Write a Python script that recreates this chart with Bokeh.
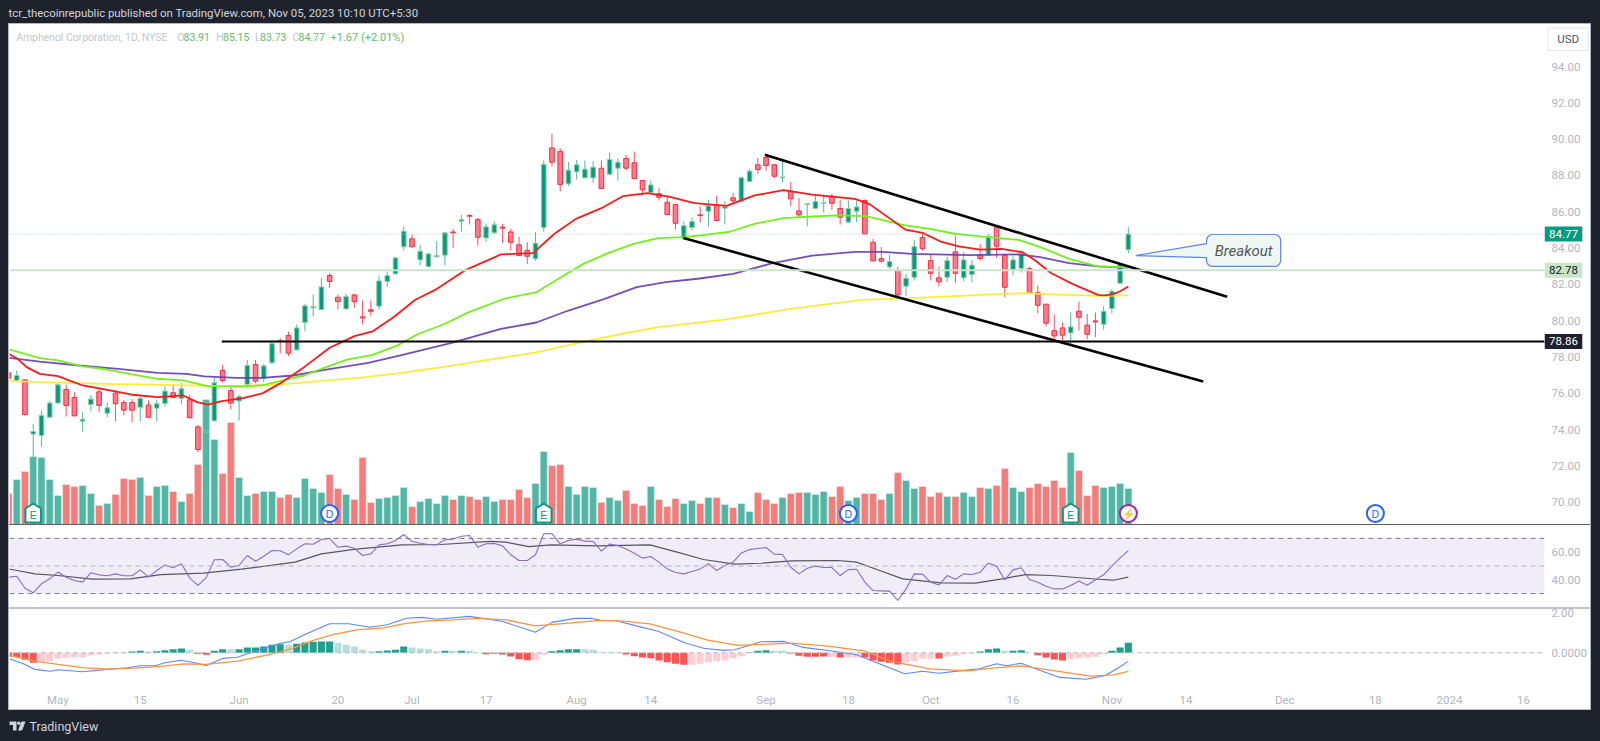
import numpy as np
from bokeh.core.properties import value
from bokeh.embed import file_html
from bokeh.resources import INLINE
from bokeh.plotting import figure
from bokeh.layouts import column, row
from bokeh.models import (Range1d, FixedTicker, Label, Span, BoxAnnotation, LinearAxis, Spacer)

# ---------- data (bar 0 = 1 May 2023, last bar = 3 Nov 2023) ----------
first_bar = -6
opens = [77.13,76.70,76.74,73.75,73.67,74.68,75.46,76.21,75.77,74.46,75.38,76.08,74.90,76.01,75.49,75.49,75.23,75.35,75.18,75.44,76.03,75.71,75.64,74.15,73.86,74.48,77.26,76.15,75.57,76.48,77.59,76.81,77.68,78.89,79.18,
         78.39,79.90,80.71,80.61,82.49,81.29,80.65,81.42,80.21,80.60,80.80,82.16,82.58,84.07,84.51,83.35,82.98,83.52,83.61,84.89,85.48,85.79,85.57,84.56,84.84,85.15,84.89,84.18,83.88,83.41,85.13,89.52,89.32,87.54,88.20,
         87.87,87.87,88.40,88.07,88.40,88.94,88.70,87.72,87.06,86.99,86.53,86.40,84.53,85.13,85.83,86.03,86.36,86.20,86.77,86.57,87.67,88.59,88.99,88.59,87.87,87.14,86.05,86.40,86.18,86.47,86.86,86.18,85.43,86.03,
         86.62,84.32,83.42,82.96,82.78,81.90,82.39,84.58,83.31,82.36,82.39,83.79,82.36,82.54,83.61,83.62,85.19,83.61,82.80,82.89,82.87,81.55,80.91,79.45,79.60,79.33,80.52,79.75,79.99,79.80,80.67,82.06,83.91]
highs = [77.16,77.26,76.78,74.32,75.05,75.57,76.61,76.47,76.06,74.96,75.91,76.30,75.49,76.15,75.64,75.68,75.82,75.60,75.64,76.37,76.43,76.56,75.93,74.26,73.99,76.89,77.57,76.43,75.93,77.84,77.84,77.62,78.91,79.04,79.40,
         79.79,80.93,81.44,82.36,82.63,81.44,81.48,81.48,81.11,81.11,82.49,82.71,83.53,85.19,84.75,84.18,83.74,84.38,84.89,85.06,85.83,85.87,85.67,85.34,85.48,85.34,85.06,84.64,84.32,84.88,88.83,90.30,89.49,88.75,88.86,
         88.83,88.79,88.83,89.27,88.97,89.14,89.32,87.76,87.72,87.30,86.84,86.44,85.48,85.70,86.29,86.66,86.88,86.58,87.03,87.94,88.37,88.97,89.12,88.64,88.83,87.63,86.77,86.46,86.88,86.95,86.99,86.66,86.62,86.62,
         86.69,84.51,84.05,83.64,82.98,82.58,84.45,84.87,83.64,82.98,83.53,84.69,83.79,83.35,84.23,84.78,85.24,83.68,83.59,83.90,82.98,81.93,80.92,80.34,79.90,80.45,81.03,80.37,80.45,80.81,81.73,83.17,85.15]
lows = [76.80,76.70,74.78,72.30,73.07,74.68,75.46,74.72,74.72,73.89,75.01,74.96,74.68,74.46,74.79,74.39,74.46,74.68,74.45,75.27,75.73,75.38,74.65,72.75,73.77,74.46,76.61,75.12,74.50,76.30,76.56,76.61,77.59,78.21,78.06,
        78.39,79.42,80.23,80.61,81.81,80.63,80.61,80.71,79.79,80.28,80.60,81.85,82.54,83.87,84.05,83.06,82.98,83.50,83.06,84.01,84.91,85.30,84.14,84.36,84.79,84.27,83.87,83.59,83.13,83.31,84.91,88.50,87.12,87.43,87.78,
        87.87,87.58,87.25,88.05,87.72,88.27,87.80,86.92,87.03,86.62,85.81,85.02,84.45,84.97,85.41,85.17,85.48,85.30,86.44,86.51,87.65,88.09,88.27,87.85,87.61,86.31,85.68,85.19,86.18,85.96,86.11,85.30,85.37,85.43,
        84.75,83.28,83.20,82.87,81.20,81.37,82.21,83.86,82.21,81.88,82.14,82.08,82.17,82.12,83.31,83.61,83.46,81.29,82.50,82.65,81.48,80.41,79.68,79.00,78.79,78.68,79.45,78.98,79.09,79.51,80.41,82.05,83.73]
closes = [76.83,76.98,74.83,73.89,74.78,75.46,76.47,75.33,74.76,74.57,75.68,75.33,75.20,75.42,75.07,75.07,75.71,74.68,75.42,76.12,75.77,76.25,74.65,72.90,73.93,76.58,76.70,75.46,75.82,77.53,76.67,77.51,78.73,78.85,78.21,
          79.60,80.82,80.78,81.86,82.16,81.05,81.33,81.05,80.15,80.52,82.19,82.49,83.46,84.93,84.07,83.83,83.68,83.59,84.84,84.84,85.57,85.76,84.60,85.17,85.28,85.10,84.32,83.59,83.55,84.27,88.61,88.73,87.50,88.29,88.59,
          88.35,88.46,87.28,88.88,88.73,88.40,87.83,87.21,87.48,86.80,85.85,85.37,85.23,85.46,85.79,86.33,85.52,86.29,86.60,87.87,88.24,88.33,88.55,87.96,87.92,86.71,85.83,86.46,86.57,86.51,86.47,85.70,86.18,86.27,
          84.78,83.29,83.28,83.26,81.42,82.34,84.08,83.97,82.61,82.14,83.31,82.61,83.35,83.06,83.42,84.64,84.10,81.84,83.35,83.68,81.51,80.85,79.86,79.16,79.20,79.66,80.19,79.25,79.93,80.52,81.62,83.09,84.77]
volumes = [31,45,53,68,67,45,29,40,38,39,31,19,21,30,46,45,47,29,38,39,33,23,31,60,125,85,51,102,47,29,31,33,33,27,30,27,46,36,32,50,36,30,25,67,22,26,27,29,37,18,23,26,21,29,25,29,28,25,28,23,25,25,35,27,41,73,59,60,38,30,38,37,22,
           27,24,34,21,19,38,25,18,26,21,24,21,27,27,20,17,21,13,32,25,21,27,31,32,32,30,33,28,38,24,27,31,31,25,31,52,44,36,38,28,32,28,28,32,28,37,36,39,56,37,33,37,41,38,44,37,72,54,29,39,37,38,41,36]

ema20_x = [-6,-4.9,-3.8,-2.2,0,3,6,9,12.1,15.2,16.9,18.2,19.9,22.5,24.9,27.3,29.9,33,36,38.2,40.8,43.4,46,49.4,53.8,57.7,60.3,62.9,66,68.6,71.6,74.2,77.3,81.2,84.6,88.1,91.6,96.8,98.5,101.1,102.9,105,107.2,109.4,112,114.6,117.2,118.7,120.6,123.2,126.3,127,128,129,130]
ema20_y = [78.18,77.90,77.44,77.07,76.95,76.43,76.19,75.92,75.79,75.88,75.51,75.38,75.57,75.73,76.01,76.63,77.44,78.51,79.15,79.41,80.20,81.15,81.74,82.77,83.65,83.72,84.79,85.61,86.20,86.86,87.03,86.84,86.48,86.33,86.90,87.19,86.95,86.71,86.44,85.61,85.02,84.84,84.36,84.09,83.92,83.96,83.76,83.32,82.63,82.03,81.42,81.40,81.44,81.62,81.88]
ema50_x = [-6,-2.2,0,3,6,9,12.1,15.2,18.2,22.5,24.9,27.3,29.9,32,35.1,38.2,41.2,43.8,46.8,49.9,54.2,58.1,60.8,63.8,66.8,69.9,72.9,76,79,81.6,84.6,88.1,91.6,94.6,98.1,100.7,102.9,105.9,108.9,112,116.7,119.3,122.8,126.3,127,129,130]
ema50_y = [78.43,77.94,77.81,77.48,77.31,77.04,76.80,76.71,76.39,76.38,76.45,76.71,76.98,77.35,77.85,78.12,78.63,79.28,79.79,80.47,81.21,81.57,82.31,83.13,83.72,84.23,84.55,84.60,84.75,84.90,85.34,85.65,85.74,85.80,85.76,85.48,85.25,85.06,84.79,84.64,84.45,84.05,83.41,82.99,82.98,82.95,82.93]
ema100_x = [-6,-2.2,2.6,7.3,12.1,15.6,17.8,21.7,24.7,28.6,32,37.7,42.1,47.7,53.8,58.1,62,66.4,70.3,73.8,77.7,82,86.8,91.6,96.8,100.2,103.7,110.7,116.7,119.3,122.8,126.3,129,130]
ema100_y = [77.95,77.75,77.53,77.35,77.13,77.07,76.93,76.85,76.85,76.98,77.26,77.68,78.14,78.76,79.55,79.90,80.56,81.20,81.85,82.12,82.31,82.58,83.17,83.59,83.79,83.79,83.68,83.61,83.65,83.50,83.17,82.99,82.93,82.93]
ema200_x = [-6,-2.2,6,14.7,19.9,24.3,29,36.4,40.8,47.3,53.8,58.1,64.2,68.6,72.9,81.2,89,97.6,102,106.3,114.1,117.6,121.5,126.6,130]
ema200_y = [76.69,76.61,76.52,76.45,76.39,76.43,76.56,76.85,77.07,77.48,77.95,78.25,78.87,79.28,79.64,80.07,80.65,81.15,81.22,81.30,81.46,81.52,81.44,81.37,81.40]

rsi = [41.9,42.6,33.9,30.6,37.1,40.7,45.6,41.9,39.5,38.3,45.1,43.6,42.9,44.3,42.9,42.9,47.2,41.9,46.7,50.8,48.7,51.6,41.4,35.9,41.4,54.5,54.7,49.2,50.4,57.6,53.5,57.1,61.2,61.0,58.1,62.4,66.1,65.8,69.2,69.9,63.6,64.4,62.9,57.6,58.8,65.3,66.1,68.5,72.8,67.8,66.5,65.6,65.3,69.0,69.5,71.6,72.1,63.6,66.1,66.3,64.6,58.1,54.0,54.0,58.1,73.3,73.5,66.1,68.5,69.5,68.0,67.8,60.8,
       66.0,64.8,62.4,59.3,55.7,56.9,52.8,47.9,45.3,44.3,46.0,47.9,51.6,46.7,50.3,52.8,59.5,61.9,62.7,63.4,58.6,58.3,49.1,44.3,48.4,49.9,48.9,48.9,43.1,47.4,47.7,38.3,32.2,32.0,31.8,25.0,33.4,44.3,44.1,38.3,36.3,43.1,40.4,44.3,43.8,45.5,52.0,49.9,39.9,47.2,48.7,40.2,38.3,35.4,33.4,33.4,35.9,39.2,36.1,40.0,43.6,49.9,55.9,61.2]
rsi_ma_x = [-6,-2.8,0,4.2,8.8,12.5,17.7,22.3,28.8,32,36.2,41.8,46.5,52.5,54.4,57.2,59.9,65.5,71.9,75.2,78.4,82.2,85.4,89.1,94.7,97,99.8,102.6,107.3,111.4,114.7,117.5,120.7,126.3,128.2,130]
rsi_ma_y = [47.9,44.3,43.1,40.5,40.7,43.8,44.8,47.7,52.8,58.8,62.2,65.3,65.6,67.8,67.3,64.1,65.3,64.6,65.3,60.0,54.7,51.3,52.0,53.7,54.0,52.8,46.7,40.7,37.8,37.6,40.7,43.8,43.1,40.4,39.7,41.9]

hist = [-.20,-.22,-.35,-.50,-.43,-.42,-.28,-.25,-.23,-.23,-.13,-.08,-.05,.02,.02,.07,.10,.07,.08,.13,.18,.22,.15,-.05,-.10,.10,.18,.18,.18,.27,.27,.32,.40,.43,.40,.45,.52,.55,.57,.57,.50,.40,.32,.15,.08,.08,.12,.15,.32,.27,.22,.18,.08,.10,.10,.10,.10,.02,-.07,-.05,-.08,-.18,-.32,-.37,-.37,-.10,.08,.13,.18,.18,.18,.15,.01,
        .02,.02,-.08,-.17,-.23,-.27,-.38,-.47,-.55,-.60,-.60,-.55,-.47,-.42,-.38,-.27,-.17,.03,.10,.13,.10,.10,-.03,-.15,-.20,-.20,-.18,-.20,-.23,-.23,-.23,-.23,-.38,-.45,-.50,-.58,-.47,-.42,-.28,-.28,-.28,-.18,-.15,-.07,-.03,.07,.18,.22,.10,.10,.13,.02,-.12,-.23,-.33,-.38,-.32,-.27,-.23,-.20,-.07,.10,.27,.50]
hist_kind = list("RRRRrrrrrrrrr"
                 "GGGGgGGGGgRRGGgGGGGGGgGGGGGgggggGGGGggggGgGggRRRRRRrrGGGGggG"
                 "GGRRRRRRRRrrrrrrrGGGggRRRRRrRrrRRRRRrrrrRrrrrGGGgGGgRRRRrrrrrGGG")
macd_x = [-5.9,-4.2,-2.8,-.9,0,3,6,8.4,10,11.8,13,14.9,16.3,18,20,21.8,23.2,26.5,28.3,30.2,33,35.3,37.9,40,42.3,44.2,46,50,53.9,58,60,62.8,64.8,65.9,67.8,70.5,72.9,76.1,78.4,80.8,82.2,85.4,88.2,90.5,94.2,97,100.3,102.8,105,107,110,111.9,114,115.2,117,119.3,121.7,124.9,127.2,128.6,130]
macd_y = [-.30,-.55,-.83,-.92,-.85,-.95,-.83,-.75,-.65,-.65,-.50,-.37,-.47,-.63,-.28,-.22,-.02,.42,.58,.95,1.45,1.45,1.28,1.40,1.73,1.77,1.68,1.82,1.58,1.03,1.52,1.72,1.73,1.62,1.60,1.32,1.08,.50,.23,.12,.15,.55,.57,.27,.08,-.10,-.63,-1.05,-.92,-1.02,-.88,-.80,-.55,-.65,-.52,-.88,-1.23,-1.32,-1.13,-.80,-.43]
signal_x = [-5.9,-2.8,0,3.3,6,8.8,12.5,15.3,18,21.8,25.5,28.3,31,33.5,36.3,39.5,42.3,45,47.9,51,54.4,58,60.9,65.9,68.7,71.9,75.2,78.9,82.6,89.1,93.8,98,101.2,105.9,110.5,113.8,117,120.7,125.4,128.2,130]
signal_y = [-.13,-.42,-.58,-.75,-.82,-.78,-.68,-.55,-.58,-.42,-.10,.20,.62,.92,1.15,1.25,1.47,1.60,1.65,1.72,1.65,1.35,1.45,1.62,1.58,1.45,1.08,.63,.37,.48,.32,.08,-.43,-.80,-.90,-.75,-.65,-.88,-1.17,-1.10,-.93]

time_ticks = [0,10,22,34,43,52,63,72,86,96,106,116,128,137,149,160,169,178]
time_labels = ["May","15","Jun","20","Jul","17","Aug","14","Sep","18","Oct","16","Nov","14","Dec","18","2024","16"]
price_ticks = [70,72,74,76,78,80,82,84,86,88,90,92,94]

support_price = 78.86
prior_close_price = 82.78
last_price = 84.77
upper_line = ([85.85, 142.0], [89.14, 81.32])
lower_line = ([75.97, 139.1], [84.55, 76.65])
support_start = 19.9
event_d = [33, 96, 160]
event_e = [-3, 59, 123]
event_split = [130]

# ---------- styling ----------
DARK = "#1e222d"; AXIS = "#b2b5be"; FONT = "Roboto"
UP = "#089981"
X_RANGE = Range1d(-5.88, 180.54)
PANE_W = 1581; AXIS_W = 46

def style_axis(ax, standoff=7):
    ax.axis_line_color = None; ax.major_tick_line_color = None; ax.minor_tick_line_color = None
    ax.major_tick_out = 0; ax.major_tick_in = 0; ax.minor_tick_out = 0; ax.minor_tick_in = 0
    ax.major_label_text_color = AXIS; ax.major_label_text_font = FONT
    ax.major_label_text_font_size = "11.5px"; ax.major_label_standoff = standoff

def pane(h, y0, y1, bottom=0):
    f = figure(width=PANE_W, height=h, x_range=X_RANGE, y_range=Range1d(y0, y1), tools="",
               toolbar_location=None, output_backend="svg", x_axis_location=None,
               y_axis_location="right", min_border_left=0, min_border_right=AXIS_W,
               min_border_top=0, min_border_bottom=bottom, outline_line_color=None,
               border_fill_color="white", background_fill_color=None)
    f.grid.visible = False
    style_axis(f.yaxis[0])
    return f

def lbl(f, x, y, text, color, size="11.5px", **kw):
    f.add_layout(Label(x=x, y=y, x_units=kw.pop("x_units", "screen"), y_units=kw.pop("y_units", "screen"),
                       text=text, text_color=color, text_font=FONT, text_font_size=size,
                       text_baseline="middle", **kw))

# ---------- price pane ----------
price = pane(500, 68.77, 96.32)
price.yaxis[0].ticker = FixedTicker(ticks=price_ticks)
price.yaxis[0].major_label_overrides = {t: f"{t:.2f}" for t in price_ticks}
price.extra_y_ranges = {"vol": Range1d(0, 500)}

n = np.arange(first_bar, first_bar + len(closes))
o, h, l, c = map(np.array, (opens, highs, lows, closes))
up = c >= o
vol_col = np.where(up, "#52b6a6", "#f67b79").tolist()
price.vbar(x=n, top=volumes, bottom=0, width=0.86, fill_color=vol_col, line_color="#dff0ec",
           line_width=0.6, y_range_name="vol")

price.add_layout(Span(location=prior_close_price, dimension="width", line_color="#c8e6c9", line_width=2))
price.add_layout(Span(location=last_price, dimension="width", line_color="#9fc9bd", line_width=1, line_dash="1 2"))

wick_col = np.where(up, "#55b79f", "#f7505f").tolist()
price.segment(x0=n, x1=n, y0=l, y1=h, line_color=wick_col, line_width=1)
price.vbar(x=n, top=np.maximum(o, c), bottom=np.minimum(o, c), width=0.56,
           fill_color=np.where(up, UP, "#fa7c88").tolist(),
           line_color=np.where(up, "#8fcfa0", "#f52f45").tolist(), line_width=1)

price.line(ema200_x, ema200_y, line_color="#ffeb3b", line_width=1.8)
price.line(ema100_x, ema100_y, line_color="#673ab7", line_width=1.8, line_alpha=0.9)
price.line(ema50_x, ema50_y, line_color="#76f01c", line_width=1.8)
price.line(ema20_x, ema20_y, line_color="#ff1a1a", line_width=1.8)

price.segment(x0=[support_start], x1=[X_RANGE.end], y0=[support_price], y1=[support_price],
              line_color="#000000", line_width=2)
price.line(*upper_line, line_color="#000000", line_width=2.6)
price.line(*lower_line, line_color="#000000", line_width=2.6)

# callout
def callout(x0, x1, y0, y1, rx, ry, tip, base_hi, base_lo):
    a = np.linspace(0, np.pi / 2, 6)
    xs = [x0]; ys = [base_hi]
    xs += list(x0 + rx - rx * np.cos(a)); ys += list(y1 - ry + ry * np.sin(a))
    xs += list(x1 - rx + rx * np.sin(a)); ys += list(y1 - ry + ry * np.cos(a))
    xs += list(x1 - rx + rx * np.cos(a)); ys += list(y0 + ry - ry * np.sin(a))
    xs += list(x0 + rx - rx * np.sin(a)); ys += list(y0 + ry - ry * np.cos(a))
    xs += [x0, tip[0], x0]; ys += [base_lo, tip[1], base_hi]
    return xs, ys
cx, cy = callout(139.5, 148.5, 82.99, 84.75, 0.75, 0.33, (130.9, 83.59), 84.25, 83.48)
price.patch(cx, cy, fill_color="#eff7f2", line_color="#5b86e5", line_width=1.2)
lbl(price, 144.0, 83.85, "Breakout", "#555555", size="15px", x_units="data", y_units="data",
    text_align="center", text_font_style="italic")

# events along the bottom of the pane
MARK_Y = 11
price.scatter(event_d, [MARK_Y] * len(event_d), size=17, marker="circle", fill_color="white",
              line_color="#2962ff", line_width=2, y_range_name="vol")
price.scatter(event_split, [MARK_Y] * len(event_split), size=17, marker="circle", fill_color="white",
              line_color="#9c27b0", line_width=2, y_range_name="vol")
price.patches([[e - .95, e - .95, e, e + .95, e + .95] for e in event_e],
              [[2, 16, 21, 16, 2] for _ in event_e], fill_color="white", line_color=UP, line_width=2,
              y_range_name="vol")
price.text(event_d, [MARK_Y] * len(event_d), text=["D"] * len(event_d), text_color="#2962ff",
           text_font_size="10.5px", text_align="center", text_baseline="middle", y_range_name="vol")
price.text(event_e, [MARK_Y - 1] * len(event_e), text=["E"] * len(event_e), text_color=UP,
           text_font_size="10.5px", text_align="center", text_baseline="middle", y_range_name="vol")
price.text(event_split, [MARK_Y] * len(event_split), text=["⚡"] * len(event_split), text_color="#9c27b0",
           text_font_size="10.5px", text_align="center", text_baseline="middle", y_range_name="vol")

# title line
LEG_Y = 487.3
GREY = "#c3c6ce"; GREEN = "#66bb6a"
for x, t, col, sz in [(6.7, "Amphenol Corporation, 1D, NYSE", GREY, "10.4px"),
                      (167.8, "O", GREY, "10.5px"), (174, "83.91", GREEN, "10.5px"), (206.7, "H", GREY, "10.5px"),
                      (213.5, "85.15", GREEN, "10.5px"), (245.6, "L", GREY, "10.5px"), (250.6, "83.73", GREEN, "10.5px"),
                      (283, "C", GREY, "10.5px"), (289, "84.77", GREEN, "10.5px"), (321, "+1.67 (+2.01%)", GREEN, "11px")]:
    lbl(price, x, LEG_Y, t, col, size=sz)

# ---------- RSI pane ----------
rsi_p = pane(82, 19.93, 79.35)
rsi_p.yaxis[0].ticker = FixedTicker(ticks=[40, 60])
rsi_p.yaxis[0].major_label_overrides = {40: "40.00", 60: "60.00"}
rsi_p.add_layout(BoxAnnotation(bottom=30, top=70, fill_color="#7e57c2", fill_alpha=0.11, line_color=None))
rsi_p.add_layout(Span(location=70, dimension="width", line_color="#787b86", line_dash="5 4", line_width=1))
rsi_p.add_layout(Span(location=50, dimension="width", line_color="#b2b5be", line_dash="5 4", line_width=1))
rsi_p.add_layout(Span(location=30, dimension="width", line_color="#787b86", line_dash="5 4", line_width=1))
rsi_p.line(rsi_ma_x, rsi_ma_y, line_color="#555555", line_width=1.2)
rsi_p.line(n, rsi, line_color="#8e6cc9", line_width=1.1)

# ---------- MACD pane ----------
macd_p = pane(100, -1.585, 2.165, bottom=25)
macd_p.yaxis[0].ticker = FixedTicker(ticks=[0])
macd_p.yaxis[0].major_label_overrides = {0: "0.0000"}
hist_colors = [{"G": "#1f9f8f", "g": "#b2dfdb", "R": "#ff5252", "r": "#ffcdd2"}[k] for k in hist_kind]
macd_p.vbar(x=n, top=hist, bottom=0, width=0.86, fill_color=hist_colors, line_color=None)
macd_p.add_layout(Span(location=0, dimension="width", line_color="#b2b5be", line_dash="4 4", line_width=1))
macd_p.line(macd_x, macd_y, line_color="#5c88ff", line_width=1.1)
macd_p.line(signal_x, signal_y, line_color="#ff9340", line_width=1.3)
time_axis = LinearAxis(ticker=FixedTicker(ticks=time_ticks),
                       major_label_overrides=dict(zip(time_ticks, time_labels)))
style_axis(time_axis, standoff=8)
macd_p.add_layout(time_axis, "below")

# ---------- transparent strips that lie over the right-hand axis column ----------
def overlay(h, y_range, top):
    f = figure(width=AXIS_W, height=h, x_range=Range1d(0, AXIS_W), y_range=y_range, tools="",
               toolbar_location=None, output_backend="svg", x_axis_location=None, y_axis_location=None,
               min_border=0, outline_line_color=None, border_fill_color=None, background_fill_color=None,
               margin=(top, 0, 0, -AXIS_W))
    f.grid.visible = False
    return f

price_tags = overlay(500, price.y_range, 1)
tag_vals = [last_price, prior_close_price, support_price]
tag_text = ["84.77", "82.78", "78.86"]
price_tags.rect(x=[18.9] * 3, y=tag_vals, width=37.8, height=15, height_units="screen",
                fill_color=[UP, "#c8e6c9", DARK], line_color=None)
price_tags.text(x=[18.9] * 3, y=tag_vals, text=tag_text, text_color=["white", "#131722", "white"],
                text_font=value(FONT), text_font_size="11.5px", text_align="center", text_baseline="middle")
price_tags.rect(x=[23.7], y=[95.51], width=40, height=22.7, height_units="screen",
                fill_color="white", line_color="#e4e6ea")
price_tags.text(x=[23.7], y=[95.51], text=["USD"], text_color="#50535e", text_font=value(FONT),
                text_font_size="11.5px", text_align="center", text_baseline="middle")

macd_top = overlay(20, Range1d(1.615, 2.615), 577)
macd_top.text(x=[7], y=[2], text=["2.00"], text_color=AXIS, text_font=value(FONT), text_font_size="11.5px",
              text_baseline="middle")

# ---------- page chrome ----------
def strip(h, w=1600):
    f = figure(width=w, height=h, x_range=Range1d(0, w), y_range=Range1d(0, h), tools="",
               toolbar_location=None, output_backend="svg", x_axis_location=None, y_axis_location=None,
               min_border=0, outline_line_color=None, border_fill_color=DARK, background_fill_color=DARK)
    f.grid.visible = False
    return f

header = strip(23)
lbl(header, 8, 10.3, "tcr_thecoinrepublic published on TradingView.com, Nov 05, 2023 10:10 UTC+5:30", "#d1d4dc", size="11.4px")
footer = strip(31)
logo_xs = [[9, 16, 16, 12.5, 12.5, 9], [21, 25, 21.5, 17.5]]
logo_ys = [[20, 20, 11, 11, 16.5, 16.5], [20, 20, 11, 11]]
footer.patches(logo_xs, logo_ys, fill_color="#d1d4dc", line_color=None)
footer.scatter([18.3], [18.3], size=3.5, marker="circle", fill_color="#d1d4dc", line_color=None)
lbl(footer, 29, 15.5, "TradingView", "#d1d4dc", size="12.5px")

def rule(w, h, color):
    return Spacer(width=w, height=h, styles={"background-color": color})

panes = column(rule(PANE_W, 1, "#b5b8c0"), price, rule(PANE_W, 1, "#5d606b"), rsi_p,
               rule(PANE_W, 2, "#c0c2c8"), macd_p, rule(PANE_W, 1, "#c0c2c8"), spacing=0,
               styles={"background-color": "white"})
body = row(rule(8, 687, DARK), rule(1, 687, "#b5b8c0"), panes, price_tags, macd_top,
           rule(1, 687, "#b5b8c0"), rule(9, 687, DARK), spacing=0)
page = column(header, body, footer, spacing=0)

html = file_html(page, INLINE, title="Amphenol Corporation, 1D, NYSE")
html = html.replace("</head>", f"<style>html,body{{background:{DARK};margin:0;padding:0;overflow:hidden}}</style></head>", 1)
open("out.html", "w").write(html)
